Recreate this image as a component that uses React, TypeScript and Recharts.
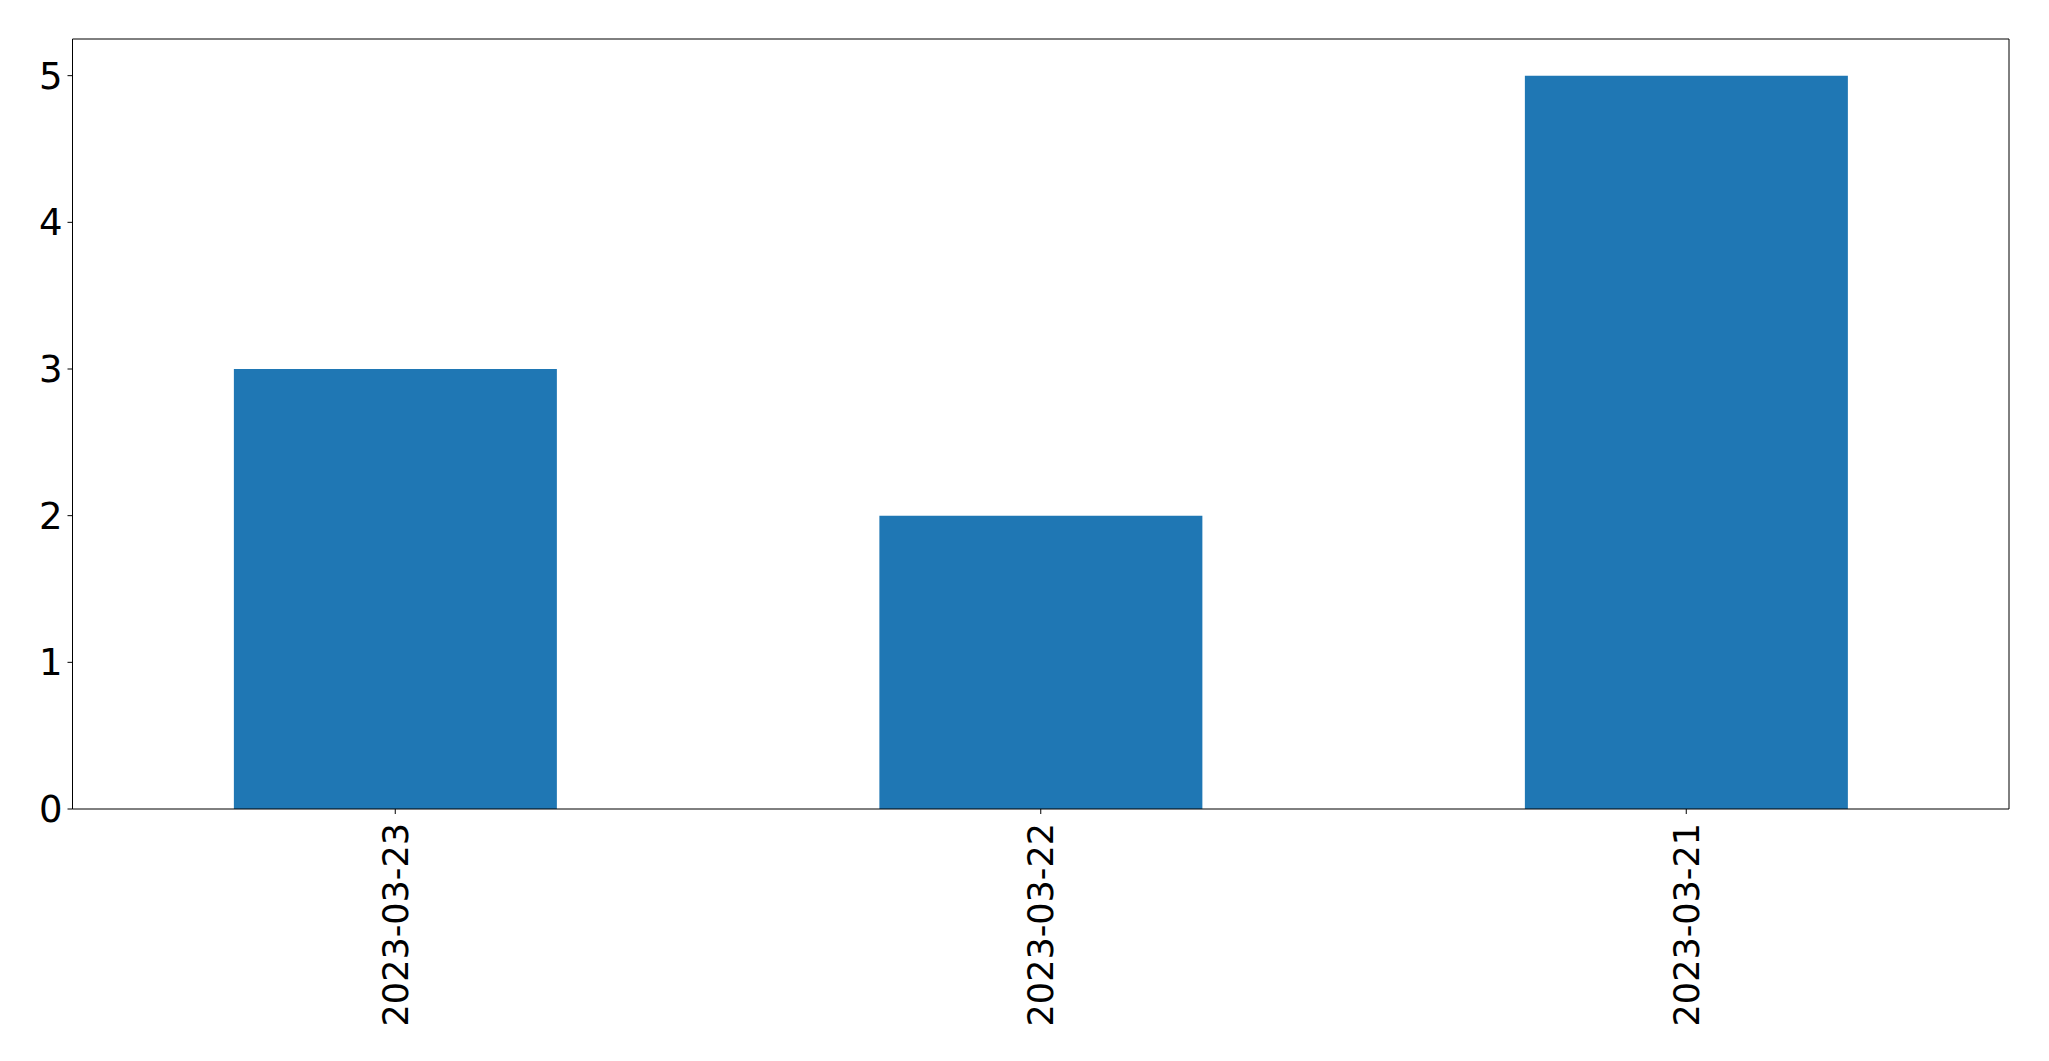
import { BarChart, Bar, XAxis, YAxis, ReferenceLine } from 'recharts';

const dates = ['2023-03-23', '2023-03-22', '2023-03-21'];
const counts = [3, 2, 5];
const yTicks = [0, 1, 2, 3, 4, 5];
const yMax = 5.25;

const data = dates.map((date, i) => ({ date, count: counts[i] }));

const FONT = 'DejaVu Sans, sans-serif';

function DateTick(props: any) {
  const { x, payload } = props;
  const y = 823;
  return (
    <text
      x={x}
      y={y}
      dy="0.36em"
      transform={`rotate(-90, ${x}, ${y})`}
      textAnchor="end"
      fill="#000"
      fontSize={35}
      fontFamily={FONT}
    >
      {payload.value}
    </text>
  );
}

export default function App() {
  return (
    <div style={{ position: 'absolute', left: 0, top: 0, background: '#fff' }}>
      <BarChart
        width={2049}
        height={1061}
        data={data}
        margin={{ top: 39, right: 39, left: 0, bottom: 0 }}
        barCategoryGap="25%"
      >
        <XAxis
          dataKey="date"
          height={252}
          interval={0}
          tickSize={5}
          tickLine={{ stroke: '#000', strokeWidth: 1 }}
          axisLine={{ stroke: '#000', strokeWidth: 1 }}
          tick={<DateTick />}
        />
        <YAxis
          width={72.5}
          domain={[0, yMax]}
          ticks={yTicks}
          interval={0}
          tickSize={5}
          tickMargin={5}
          tickLine={{ stroke: '#000', strokeWidth: 1 }}
          axisLine={{ stroke: '#000', strokeWidth: 1 }}
          tick={{ fill: '#000', fontSize: 37, fontFamily: FONT }}
        />
        <YAxis
          yAxisId="right"
          orientation="right"
          width={1}
          domain={[0, yMax]}
          tick={false}
          tickLine={false}
          axisLine={{ stroke: '#000', strokeWidth: 1 }}
        />
        <ReferenceLine y={yMax} stroke="#000" strokeWidth={1} ifOverflow="extendDomain" />
        <Bar dataKey="count" fill="#1f77b4" isAnimationActive={false} />
      </BarChart>
    </div>
  );
}
